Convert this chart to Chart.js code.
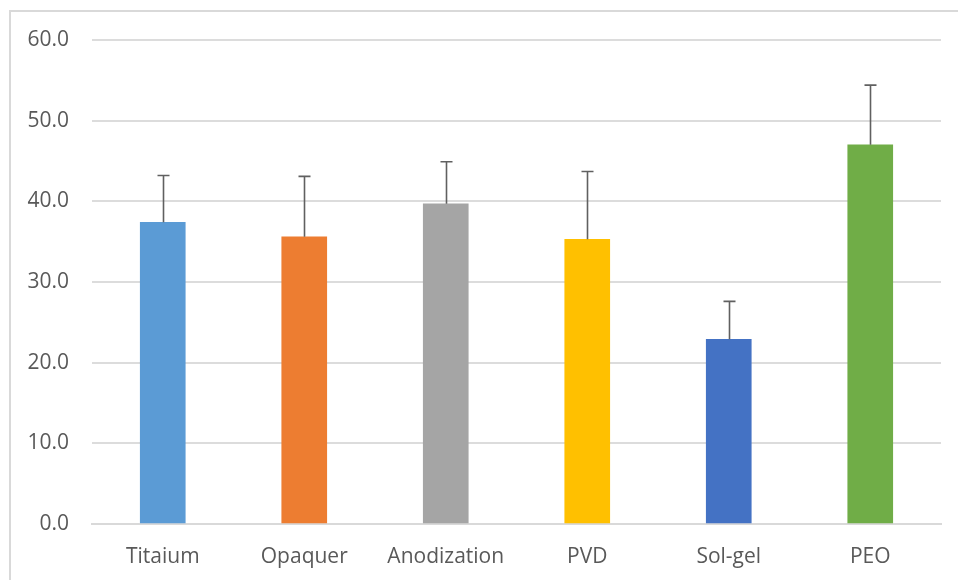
<!DOCTYPE html>
<html>
<head>
<meta charset="utf-8">
<script src="https://cdn.jsdelivr.net/npm/chart.js@4"></script>
<style>
  html, body { margin: 0; padding: 0; background: #ffffff; }
  #wrap { position: relative; width: 958px; height: 580px; overflow: hidden; }
  #frame {
    position: absolute; left: 9px; top: 10px; width: 1000px; height: 600px;
    border-top: 2px solid #d9d9d9; border-left: 2px solid #d9d9d9;
  }
  #myChart { position: absolute; left: 0; top: 0; }
</style>
</head>
<body>
<div id="wrap">
  <div id="frame"></div>
  <canvas id="myChart" width="958" height="580"></canvas>
</div>
<script>
// data
const categories = ["Titaium", "Opaquer", "Anodization", "PVD", "Sol-gel", "PEO"];
const means = [37.4, 35.6, 39.7, 35.3, 22.9, 47.0];
const errors = [5.8, 7.5, 5.2, 8.4, 4.7, 7.4];
const yTicks = [0, 10, 20, 30, 40, 50, 60];
const barColors = ["#5B9BD5", "#ED7D31", "#A5A5A5", "#FFC000", "#4472C4", "#70AD47"];

const labelFont = { family: "'Open Sans'", size: 21 };

// draws the upper error bars with a cap
const errorBarPlugin = {
  id: "errorBars",
  afterDatasetsDraw(chart) {
    const ctx = chart.ctx;
    const meta = chart.getDatasetMeta(0);
    const yScale = chart.scales.y;
    ctx.save();
    ctx.strokeStyle = "#606060";
    ctx.lineWidth = 1.6;
    meta.data.forEach((bar, i) => {
      const x = Math.round(bar.x) + 0.5;
      const yTop = yScale.getPixelForValue(means[i] + errors[i]);
      const yBar = yScale.getPixelForValue(means[i]);
      ctx.beginPath();
      ctx.moveTo(x, yBar);
      ctx.lineTo(x, yTop);
      ctx.moveTo(x - 6, yTop);
      ctx.lineTo(x + 6, yTop);
      ctx.stroke();
    });
    ctx.restore();
  },
};

let myChart = new Chart(document.getElementById("myChart").getContext("2d"), {
  type: "bar",
  data: {
    labels: categories,
    datasets: [
      {
        data: means,
        backgroundColor: barColors,
        borderWidth: 0,
        barThickness: 45,
      },
    ],
  },
  options: {
    responsive: false,
    animation: false,
    layout: { padding: { top: 40, right: 17, left: 0, bottom: 0 } },
    plugins: {
      legend: { display: false },
      tooltip: { enabled: false },
    },
    scales: {
      x: {
        grid: { display: false },
        border: { display: true, color: "#d9d9d9", width: 2 },
        ticks: { color: "#595959", font: labelFont, padding: 12, maxRotation: 0 },
        afterFit(axis) {
          axis.height = 56;
        },
      },
      y: {
        min: 0,
        max: 60,
        grid: { color: "#dcdcdc", lineWidth: 2, drawTicks: false },
        border: { display: false },
        afterBuildTicks(axis) {
          axis.ticks = yTicks.map((v) => ({ value: v }));
        },
        ticks: {
          color: "#595959",
          font: labelFont,
          padding: 23,
          callback: (v) => v.toFixed(1),
        },
        afterFit(axis) {
          axis.width = 92;
        },
      },
    },
  },
  plugins: [errorBarPlugin],
});
</script>
</body>
</html>
